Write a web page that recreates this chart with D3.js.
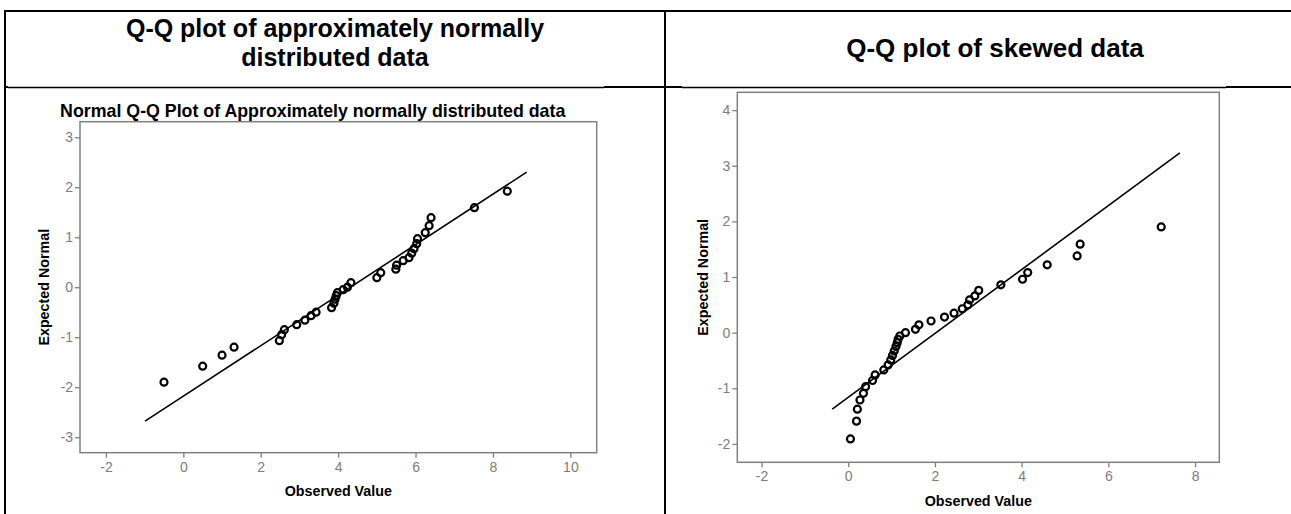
<!DOCTYPE html>
<html>
<head>
<meta charset="utf-8">
<script src="https://cdn.jsdelivr.net/npm/d3@7"></script>
<style>
  html, body { margin: 0; padding: 0; background: #fff; }
  svg { display: block; font-family: "Liberation Sans", Arial, sans-serif; }
</style>
</head>
<body>
<svg id="chart" width="1291" height="514"></svg>
<script>
// ---------- Data ----------
const headerTitles = ["Q-Q plot of approximately normally", "distributed data", "Q-Q plot of skewed data"];
const leftTitle = "Normal Q-Q Plot of Approximately normally distributed data";
const xAxisTitle = "Observed Value";
const yAxisTitle = "Expected Normal";

const leftXTicks = [-2, 0, 2, 4, 6, 8, 10];
const leftYTicks = [-3, -2, -1, 0, 1, 2, 3];
const rightXTicks = [-2, 0, 2, 4, 6, 8];
const rightYTicks = [-2, -1, 0, 1, 2, 3, 4];

const leftObserved = [-0.50, 0.50, 1.00, 1.31, 2.48, 2.54, 2.61, 2.93, 3.14, 3.30, 3.43, 3.83, 3.89, 3.92, 3.95, 3.98, 4.13, 4.24, 4.33, 5.00, 5.10, 5.49, 5.51, 5.68, 5.83, 5.90, 5.96, 6.03, 6.05, 6.25, 6.35, 6.40, 7.52, 8.37];
const leftExpected = [-1.90, -1.58, -1.36, -1.20, -1.07, -0.95, -0.85, -0.75, -0.66, -0.57, -0.50, -0.41, -0.32, -0.24, -0.17, -0.11, -0.05, 0.00, 0.09, 0.19, 0.29, 0.36, 0.44, 0.53, 0.59, 0.68, 0.77, 0.87, 0.97, 1.09, 1.23, 1.39, 1.59, 1.92];
const leftLineObserved = [-0.99, 8.87];
const leftLineExpected = [-2.68, 2.30];

const rightObserved = [0.05, 0.19, 0.21, 0.27, 0.35, 0.40, 0.56, 0.62, 0.82, 0.92, 0.98, 1.02, 1.06, 1.10, 1.13, 1.15, 1.19, 1.32, 1.55, 1.63, 1.91, 2.22, 2.44, 2.63, 2.76, 2.80, 2.92, 3.01, 3.52, 4.02, 4.14, 4.59, 5.28, 5.35, 7.22];
const rightExpected = [-1.91, -1.59, -1.375, -1.21, -1.09, -0.97, -0.86, -0.76, -0.67, -0.58, -0.49, -0.41, -0.33, -0.25, -0.18, -0.12, -0.06, 0.00, 0.06, 0.14, 0.21, 0.28, 0.35, 0.43, 0.50, 0.59, 0.66, 0.76, 0.86, 0.96, 1.08, 1.22, 1.38, 1.59, 1.90];
const rightLineObserved = [-0.37, 7.65];
const rightLineExpected = [-1.375, 3.23];

// ---------- Layout ----------
const svg = d3.select("#chart");
const FRAME = "#808080";
const TICKTXT = "#7d7d7d";

// table lines
const table = svg.append("g").attr("stroke", "#000");
table.append("line").attr("x1", 5).attr("x2", 1291).attr("y1", 11).attr("y2", 11).attr("stroke-width", 2);
table.append("line").attr("x1", 5).attr("x2", 5).attr("y1", 10).attr("y2", 514).attr("stroke-width", 2);
table.append("line").attr("x1", 665).attr("x2", 665).attr("y1", 10).attr("y2", 514).attr("stroke-width", 2);
[[5, 8], [604, 682], [1226, 1291]].forEach(([a, b]) =>
  table.append("line").attr("x1", a).attr("x2", b).attr("y1", 87).attr("y2", 87).attr("stroke-width", 2));
[[8, 604], [682, 1226]].forEach(([a, b]) =>
  table.append("line").attr("x1", a).attr("x2", b).attr("y1", 87.5).attr("y2", 87.5).attr("stroke-width", 1.3));

// headers
const hdr = svg.append("g").attr("font-weight", "bold").attr("font-size", 25).attr("text-anchor", "middle").attr("fill", "#000");
hdr.append("text").attr("x", 335).attr("y", 37).text(headerTitles[0]);
hdr.append("text").attr("x", 335).attr("y", 66).text(headerTitles[1]);
hdr.append("text").attr("x", 995).attr("y", 57).attr("font-size", 26).text(headerTitles[2]);

function drawPlot(cfg) {
  const x = d3.scaleLinear().domain(cfg.xDomain).range([cfg.left, cfg.right]);
  const y = d3.scaleLinear().domain(cfg.yDomain).range([cfg.bottom, cfg.top]);
  const g = svg.append("g");

  g.append("rect").attr("x", cfg.left).attr("y", cfg.top)
    .attr("width", cfg.right - cfg.left).attr("height", cfg.bottom - cfg.top)
    .attr("fill", "none").attr("stroke", FRAME).attr("stroke-width", 1.5);

  const xa = g.append("g").attr("transform", `translate(0,${cfg.bottom})`)
    .call(d3.axisBottom(x).tickValues(cfg.xTicks).tickSize(5).tickPadding(4).tickFormat(d3.format("d")));
  const ya = g.append("g").attr("transform", `translate(${cfg.left},0)`)
    .call(d3.axisLeft(y).tickValues(cfg.yTicks).tickSize(5).tickPadding(2).tickFormat(d3.format("d")));
  [xa, ya].forEach(a => {
    a.select(".domain").remove();
    a.selectAll(".tick line").attr("stroke", FRAME).attr("stroke-width", 1.3);
    a.selectAll(".tick text").attr("fill", TICKTXT).attr("font-size", 14)
      .attr("font-family", "'Liberation Sans', Arial, sans-serif")
      .text(d => d < 0 ? "-" + Math.abs(d) : d);
  });

  g.append("line")
    .attr("x1", x(cfg.lineX[0])).attr("y1", y(cfg.lineY[0]))
    .attr("x2", x(cfg.lineX[1])).attr("y2", y(cfg.lineY[1]))
    .attr("stroke", "#000").attr("stroke-width", 1.6);

  g.append("g").selectAll("circle").data(cfg.obs.map((o, i) => [o, cfg.exp[i]]))
    .join("circle")
    .attr("cx", d => x(d[0])).attr("cy", d => y(d[1])).attr("r", 3.5)
    .attr("fill", "none")
    .attr("stroke", "#000").attr("stroke-width", 2.2);

  g.append("text").attr("x", (cfg.left + cfg.right) / 2 + cfg.xTitleDx).attr("y", cfg.xTitleY)
    .attr("text-anchor", "middle").attr("font-weight", "bold").attr("font-size", 14.3).text(xAxisTitle);
  g.append("text").attr("transform", `translate(${cfg.yTitleX},${(cfg.top + cfg.bottom) / 2}) rotate(-90)`)
    .attr("text-anchor", "middle").attr("font-weight", "bold").attr("font-size", 14.3).text(yAxisTitle);

  if (cfg.title) {
    g.append("text").attr("x", cfg.titleX).attr("y", cfg.titleY)
      .attr("text-anchor", "middle").attr("font-weight", "bold").attr("font-size", 17.8).text(cfg.title);
  }
}

drawPlot({
  left: 80, right: 596.7, top: 121.7, bottom: 452.7,
  xDomain: [-2.67, 10.68], yDomain: [-3.31, 3.31],
  xTicks: leftXTicks, yTicks: leftYTicks,
  obs: leftObserved, exp: leftExpected,
  lineX: leftLineObserved, lineY: leftLineExpected,
  xTitleY: 496, xTitleDx: 0, yTitleX: 48.5,
  title: leftTitle, titleX: 312.7, titleY: 117
});

drawPlot({
  left: 737.3, right: 1219.3, top: 92.3, bottom: 462.3,
  xDomain: [-2.56, 8.56], yDomain: [-2.33, 4.32],
  xTicks: rightXTicks, yTicks: rightYTicks,
  obs: rightObserved, exp: rightExpected,
  lineX: rightLineObserved, lineY: rightLineExpected,
  xTitleY: 506, xTitleDx: 0, yTitleX: 708,
  title: null
});
</script>
</body>
</html>
